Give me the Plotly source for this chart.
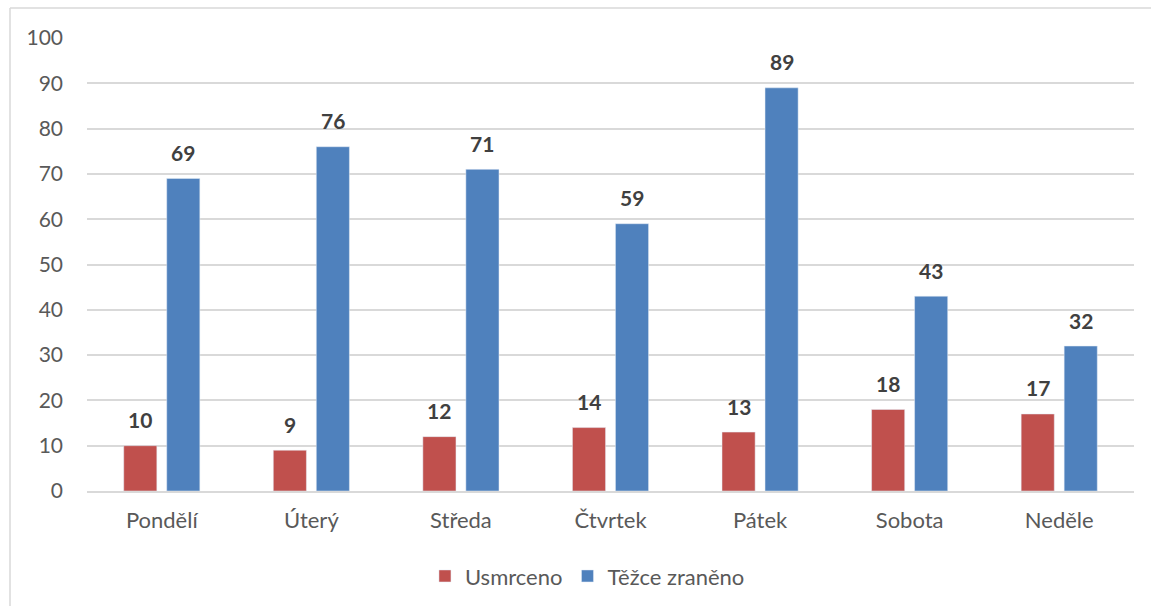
import plotly.graph_objects as go

days = ["Pondělí", "Úterý", "Středa", "Čtvrtek", "Pátek", "Sobota", "Neděle"]
killed = [10, 9, 12, 14, 13, 18, 17]
injured = [69, 76, 71, 59, 89, 43, 32]
series_names = ["Usmrceno", "Těžce zraněno"]
y_ticks = [0, 10, 20, 30, 40, 50, 60, 70, 80, 90, 100]

RED = "#C0504D"
BLUE = "#4F81BD"
FONT = "Lato"

PLOT_LEFT, PLOT_TOP, PLOT_W, PLOT_H = 87, 38, 1047, 453

fig = go.Figure()
fig.add_trace(go.Bar(x=days, y=killed, name=series_names[0], marker_color=RED))
fig.add_trace(go.Bar(x=days, y=injured, name=series_names[1], marker_color=BLUE))

# value labels above each bar
for vals, shift in ((killed, -21.5), (injured, 21.5)):
    for d, v in zip(days, vals):
        fig.add_annotation(x=d, y=v, text=f"<b>{v}</b>", showarrow=False,
                           xshift=shift, yshift=26, yanchor="middle",
                           font=dict(family=FONT, size=21, color="#404040"))

# chart frame (top and left edges)
frame_x = (10 - PLOT_LEFT) / PLOT_W
frame_y = 1 + (PLOT_TOP - 8) / PLOT_H
fig.add_shape(type="line", xref="paper", yref="paper",
              x0=frame_x, x1=1.2, y0=frame_y, y1=frame_y,
              line=dict(color="#d9d9d9", width=1.5))
fig.add_shape(type="line", xref="paper", yref="paper",
              x0=frame_x, x1=frame_x, y0=frame_y, y1=-0.5,
              line=dict(color="#d9d9d9", width=1.5))

fig.update_layout(
    width=1151, height=606,
    margin=dict(l=PLOT_LEFT, r=1151 - PLOT_LEFT - PLOT_W, t=PLOT_TOP,
                b=606 - PLOT_TOP - PLOT_H, autoexpand=False),
    paper_bgcolor="white", plot_bgcolor="white",
    barmode="group", bargap=0.425, bargroupgap=0.23,
    font=dict(family=FONT, size=22, color="#595959"),
    showlegend=True,
    legend=dict(orientation="h", x=0.478, xanchor="center", y=-0.188, yanchor="middle",
                font=dict(family=FONT, size=22, color="#595959"),
                itemwidth=30, traceorder="normal"),
    xaxis=dict(showgrid=False, showline=True, linecolor="#d9d9d9", linewidth=1.5,
               ticks="", ticklabelstandoff=9, fixedrange=True, automargin=False,
               tickfont=dict(size=22)),
    yaxis=dict(range=[0, 100], tickvals=y_ticks, showgrid=True, gridcolor="#d9d9d9",
               gridwidth=1.5, zeroline=False, showline=False, ticks="", automargin=False,
               ticklabelstandoff=23, fixedrange=True, tickfont=dict(size=21)),
)

fig.write_html("out.html")
